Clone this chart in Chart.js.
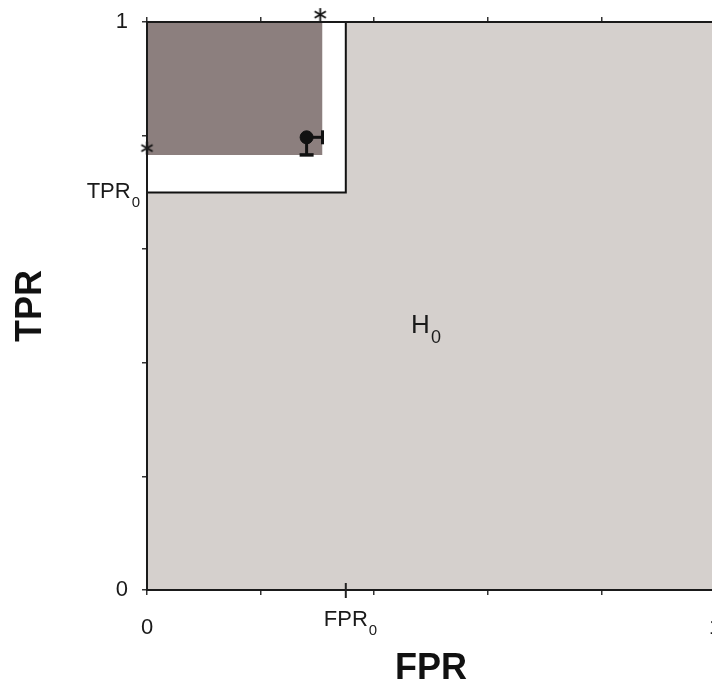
<!DOCTYPE html>
<html>
<head>
<meta charset="utf-8">
<script src="https://cdn.jsdelivr.net/npm/chart.js@4.4.1/dist/chart.umd.min.js"></script>
<style>
  html, body { margin: 0; padding: 0; background: #fff; overflow: hidden; }
  #wrap { width: 760px; height: 694px; }
</style>
</head>
<body>
<div id="wrap"><canvas id="rocChart" width="760" height="694"></canvas></div>
<script>
// values
const fpr0 = 0.35;
const tpr0 = 0.70;
const observed = [{ x: 0.281, y: 0.797 }];
const errX = 0.028;   // right-hand error on FPR
const errY = 0.031;   // lower error on TPR
const asterisks = [{ x: 0.305, y: 1.013 }, { x: 0, y: 0.778 }];
const xTicks = [0, 0.2, 0.4, 0.6, 0.8, 1];
const yTicks = [0, 0.2, 0.4, 0.6, 0.8, 1];
const tickLabels = { 0: '0', 1: '1' };
const h0Pos = { x: 0.465, y: 0.465 };

const fontFamily = '"Liberation Sans", Arial, sans-serif';
const lightGray = '#d5d0cd';
const darkGray = '#8c7f7e';

// regions built from the values above
const nullRegion = [{ x: 0, y: 0 }, { x: 1, y: 0 }];
const thresholdBox = [{ x: 0, y: tpr0 }, { x: fpr0, y: tpr0 }, { x: fpr0, y: 1 }];
const obs = observed[0];
const confRegion = [
  { x: 0, y: obs.y - errY },
  { x: obs.x + errX, y: obs.y - errY },
  { x: obs.x + errX, y: 1 }
];
const errBarX = [{ x: obs.x, y: obs.y }, { x: obs.x + errX, y: obs.y }];
const errBarY = [{ x: obs.x, y: obs.y }, { x: obs.x, y: obs.y - errY }];

function asteriskImage(size) {
  const c = document.createElement('canvas');
  c.width = size; c.height = size;
  const g = c.getContext('2d');
  g.strokeStyle = '#111';
  g.lineWidth = 1.8;
  const r = size / 2 - 1;
  g.translate(size / 2, size / 2);
  [90, 30, 150].forEach(function (a) {
    const t = a * Math.PI / 180;
    g.beginPath();
    g.moveTo(-r * Math.cos(t), -r * Math.sin(t));
    g.lineTo(r * Math.cos(t), r * Math.sin(t));
    g.stroke();
  });
  return c;
}

function drawSub(ctx, main, sub, x, y, align, size) {
  const subSize = Math.round(size * 0.68);
  ctx.save();
  ctx.fillStyle = '#1a1a1a';
  ctx.textBaseline = 'middle';
  ctx.textAlign = 'left';
  ctx.font = size + 'px ' + fontFamily;
  const wMain = ctx.measureText(main).width;
  ctx.font = subSize + 'px ' + fontFamily;
  const wSub = ctx.measureText(sub).width;
  let x0 = x;
  if (align === 'right') x0 = x - wMain - wSub - 1;
  if (align === 'center') x0 = x - wMain / 2;
  ctx.font = size + 'px ' + fontFamily;
  ctx.fillText(main, x0, y);
  ctx.font = subSize + 'px ' + fontFamily;
  ctx.fillText(sub, x0 + wMain + 1, y + size * 0.48);
  ctx.restore();
}

const labelPlugin = {
  id: 'subLabels',
  afterDraw(chart) {
    const ctx = chart.ctx;
    const xs = chart.scales.x, ys = chart.scales.y;
    const px = xs.getPixelForValue(fpr0);
    // long tick for FPR0 crossing the axis
    ctx.save();
    ctx.strokeStyle = '#222';
    ctx.lineWidth = 2;
    ctx.beginPath();
    ctx.moveTo(px, ys.bottom - 7);
    ctx.lineTo(px, ys.bottom + 8);
    ctx.stroke();
    ctx.restore();
    drawSub(ctx, 'FPR', '0', px, 620, 'center', 22);
    drawSub(ctx, 'TPR', '0', xs.left - 7, ys.getPixelForValue(tpr0), 'right', 22);
    drawSub(ctx, 'H', '0', xs.getPixelForValue(h0Pos.x), ys.getPixelForValue(h0Pos.y), 'left', 26);
  }
};

function tickSetter(values) {
  return function (scale) { scale.ticks = values.map(v => ({ value: v })); };
}
function tickText(v) { return tickLabels[v] !== undefined ? tickLabels[v] : ''; }

const gridOpts = { display: true, drawOnChartArea: false, drawTicks: true, tickLength: 5, color: '#333', lineWidth: 1.5, z: 1 };
const borderOpts = { display: true, color: '#1a1a1a', width: 2, z: 1 };

new Chart(document.getElementById('rocChart'), {
  type: 'scatter',
  data: {
    datasets: [
      { type: 'line', data: nullRegion, fill: 'end', backgroundColor: lightGray, borderWidth: 0, pointRadius: 0, order: 6 },
      { type: 'line', data: thresholdBox, fill: 'end', backgroundColor: '#ffffff', borderColor: '#111', borderWidth: 2, pointRadius: 0, order: 5 },
      { type: 'line', data: confRegion, fill: 'end', backgroundColor: darkGray, borderWidth: 0, pointRadius: 0, order: 4 },
      { type: 'line', data: errBarX, borderColor: '#111', borderWidth: 3, fill: false,
        pointRadius: [0, 7], pointStyle: 'line', pointRotation: 90, pointBorderColor: '#111', pointBorderWidth: 3, order: 3 },
      { type: 'line', data: errBarY, borderColor: '#111', borderWidth: 3, fill: false,
        pointRadius: [0, 7], pointStyle: 'line', pointRotation: 0, pointBorderColor: '#111', pointBorderWidth: 3.5, order: 2 },
      { data: observed, pointRadius: 6.5, backgroundColor: '#111', borderColor: '#111', order: 1 },
      { data: asterisks, pointStyle: asteriskImage(15), pointRadius: 7, clip: false, order: 0 }
    ]
  },
  options: {
    responsive: false,
    animation: false,
    events: [],
    layout: { padding: 0 },
    plugins: {
      legend: { display: false },
      tooltip: { enabled: false }
    },
    scales: {
      x: {
        type: 'linear', position: 'bottom', min: 0, max: 1,
        afterBuildTicks: tickSetter(xTicks),
        afterFit(scale) { scale.height = 104; },
        ticks: { autoSkip: false, maxRotation: 0, padding: 20, color: '#1a1a1a',
          font: { family: fontFamily, size: 22 }, callback: tickText },
        grid: gridOpts, border: borderOpts,
        title: { display: true, text: 'FPR', color: '#111', padding: { top: 0, bottom: 3 },
          font: { family: fontFamily, size: 36, weight: 'bold' } }
      },
      x2: {
        type: 'linear', position: 'top', min: 0, max: 1,
        afterBuildTicks: tickSetter(xTicks),
        afterFit(scale) { scale.height = 22; },
        ticks: { display: false },
        grid: gridOpts, border: borderOpts
      },
      y: {
        type: 'linear', position: 'left', min: 0, max: 1,
        afterBuildTicks: tickSetter(yTicks),
        afterFit(scale) {
          scale.width = 147;
          scale.paddingTop = 0;
          scale.paddingBottom = 0;
        },
        ticks: { autoSkip: false, padding: 14, color: '#1a1a1a',
          font: { family: fontFamily, size: 22 }, callback: tickText },
        grid: gridOpts, border: borderOpts,
        title: { display: true, text: 'TPR', color: '#111', padding: { top: 9, bottom: 0 },
          font: { family: fontFamily, size: 36, weight: 'bold' } }
      },
      y2: {
        type: 'linear', position: 'right', min: 0, max: 1,
        afterBuildTicks: tickSetter(yTicks),
        afterFit(scale) { scale.width = 45; },
        ticks: { display: false },
        grid: gridOpts, border: borderOpts
      }
    }
  },
  plugins: [labelPlugin]
});
</script>
</body>
</html>
